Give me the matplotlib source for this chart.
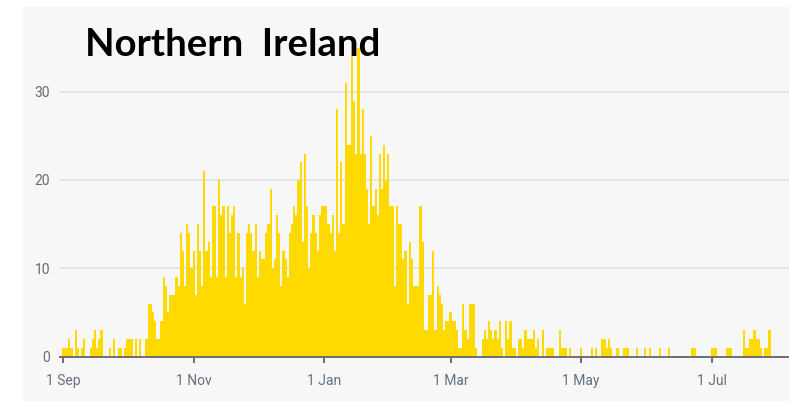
import pandas as pd
import matplotlib
matplotlib.use('Agg')
import matplotlib.pyplot as plt
from matplotlib.patches import Rectangle

# daily deaths
sep = [1, 1, 1, 2, 1, 0, 3, 1, 0, 1, 2, 0, 0, 1, 2, 3, 1, 2, 3, 0,
       0, 0, 1, 0, 2, 0, 1, 1, 0, 1]
oct_ = [2, 2, 2, 0, 2, 0, 2, 0, 0, 2, 6, 6, 5, 4, 2, 2, 4, 9, 8, 5,
        7, 7, 7, 9, 8, 14, 12, 8, 15, 14, 10]
nov = [12, 7, 15, 12, 8, 21, 12, 13, 9, 17, 17, 9, 20, 16, 17, 9, 17, 14, 16, 17,
       9, 14, 9, 10, 6, 14, 15, 14, 12, 15]
dec = [9, 12, 11, 11, 14, 15, 19, 10, 11, 16, 14, 8, 12, 11, 9, 14, 15, 17, 16, 20,
       22, 13, 23, 17, 10, 14, 16, 14, 12, 16, 17]
jan = [17, 17, 15, 14, 16, 12, 28, 14, 22, 15, 31, 24, 24, 34, 29, 23, 35, 23, 28, 23,
       19, 15, 25, 17, 19, 16, 23, 19, 24, 20, 23]
feb = [17, 17, 8, 17, 15, 15, 11, 12, 6, 13, 11, 8, 8, 8, 17, 13, 3, 3, 7, 7,
       12, 3, 8, 7, 6, 3, 4, 4]
mar = [5, 4, 4, 3, 1, 1, 6, 3, 2, 6, 6, 6, 1, 0, 0, 2, 3, 2, 4, 3,
       2, 3, 2, 4, 1, 0, 4, 2, 4, 1, 1]
apr = [0, 2, 2, 1, 3, 2, 2, 2, 3, 1, 2, 0, 3, 0, 1, 1, 1, 1, 0, 0,
       3, 1, 1, 1, 0, 1, 0, 0, 0, 0]
may = [1, 0, 0, 0, 0, 1, 0, 1, 0, 0, 2, 2, 1, 2, 1, 0, 0, 1, 0, 0,
       1, 1, 1, 0, 0, 0, 1, 0, 0, 0, 1]
jun = [0, 1, 0, 0, 0, 0, 1, 0, 0, 0, 1, 0, 0, 0, 0, 0, 0, 0, 0, 0,
       0, 1, 1, 0, 0, 0, 0, 0, 0, 0]
jul = [1, 1, 1, 0, 0, 0, 0, 1, 1, 1, 0, 0, 0, 0, 0, 3, 1, 1, 2, 2,
       3, 2, 2, 1, 0, 1, 1, 3]

tick_dates = ['2020-09-01', '2020-11-01', '2021-01-01',
              '2021-03-01', '2021-05-01', '2021-07-01']
tick_labels = ['1 Sep', '1 Nov', '1 Jan', '1 Mar', '1 May', '1 Jul']
y_ticks = [0, 10, 20, 30]
title = 'Northern  Ireland'

deaths = sep + oct_ + nov + dec + jan + feb + mar + apr + may + jun + jul
dates = pd.date_range('2020-09-01', periods=len(deaths), freq='D')

fig = plt.figure(figsize=(7.89, 4.01), dpi=100, facecolor='white')
# light grey panel behind everything
fig.patches.append(Rectangle((23 / 789, 0), 1, 1 - 7 / 401,
                             transform=fig.transFigure, facecolor='#f7f7f7',
                             edgecolor='none', zorder=-10))

ax = fig.add_axes([60 / 789, 44.5 / 401, 729 / 789, 349.5 / 401])
ax.set_zorder(1)
ax.set_facecolor('none')
ax.bar(dates, deaths, width=1.0, color='#ffda00', linewidth=0, zorder=2)

start = pd.Timestamp('2020-09-01')
ax.set_xlim(start - pd.Timedelta(days=1.4), start + pd.Timedelta(days=339.1))
ax.set_ylim(0, 39.6)

ax.set_yticks(y_ticks)
ax.set_yticklabels([str(v) for v in y_ticks])
ax.set_xticks(pd.to_datetime(tick_dates))
ax.set_xticklabels(tick_labels)

ax.grid(axis='y', color='#e4e4e4', linewidth=1.4, zorder=1)
ax.grid(axis='x', visible=False)
for side in ['top', 'right', 'left']:
    ax.spines[side].set_visible(False)
ax.spines['bottom'].set_color('#6e6e6e')
ax.spines['bottom'].set_linewidth(1.4)
ax.spines['bottom'].set_zorder(3)

ax.tick_params(axis='y', length=0, pad=7, labelsize=10, labelcolor='#6a6a6a')
ax.tick_params(axis='x', length=4.5, width=1.4, color='#6e6e6e', pad=8,
               labelsize=10, labelcolor='#65707c')
for lab in ax.get_xticklabels() + ax.get_yticklabels():
    lab.set_family('Roboto')

fig.text(85 / 789, 1 - 56 / 401, title, fontsize=27.5, fontweight='bold',
         family='Lato', color='black', va='baseline', ha='left', zorder=5)

fig.savefig('out.png', dpi=100, facecolor='white')
